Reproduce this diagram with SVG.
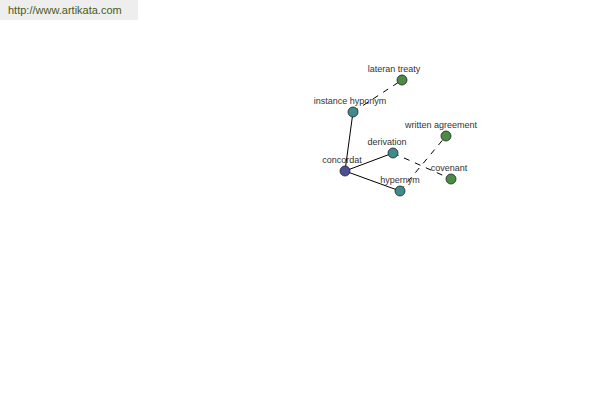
<svg xmlns="http://www.w3.org/2000/svg" width="600" height="400" viewBox="0 0 600 400">
<style>
text{font-family:"Liberation Sans",Arial,sans-serif;font-size:9px;fill:#333;text-anchor:middle}
.e{stroke:#000;stroke-width:1;fill:none}
.d{stroke-dasharray:6,6}
.n{stroke:#222;stroke-width:0.8}
.c{fill:#4a4f96}.t{fill:#3f8a8a}.g{fill:#4a8c44}
</style>
<rect width="600" height="400" fill="#fff"/>
<g id="header"><rect x="0" y="0" width="138" height="20" fill="#eeeeee"/><text x="8" y="14" style="font-size:11px;fill:#4a5a18;text-anchor:start">http://www.artikata.com</text></g>
<g id="connectors">
<line class="e" x1="345" y1="171" x2="353" y2="112"/>
<line class="e" x1="345" y1="171" x2="393" y2="153"/>
<line class="e" x1="345" y1="171" x2="400" y2="191"/>
<line class="e d" x1="353" y1="112" x2="402" y2="80"/>
<line class="e d" x1="393" y1="153" x2="451" y2="179"/>
<line class="e d" x1="400" y1="191" x2="446" y2="136"/>
</g>
<g id="concordat"><circle class="n c" cx="345" cy="171" r="5"/><text x="342" y="163">concordat</text></g>
<g id="instance_hyponym"><circle class="n t" cx="353" cy="112" r="5"/><text x="350" y="104">instance hyponym</text></g>
<g id="lateran_treaty"><circle class="n g" cx="402" cy="80" r="5"/><text x="394" y="72">lateran treaty</text></g>
<g id="derivation"><circle class="n t" cx="393" cy="153" r="5"/><text x="387" y="145">derivation</text></g>
<g id="written_agreement"><circle class="n g" cx="446" cy="136" r="5"/><text x="441" y="128">written agreement</text></g>
<g id="covenant"><circle class="n g" cx="451" cy="179" r="5"/><text x="449" y="171">covenant</text></g>
<g id="hypernym"><circle class="n t" cx="400" cy="191" r="5"/><text x="400" y="183">hypernym</text></g>
</svg>
